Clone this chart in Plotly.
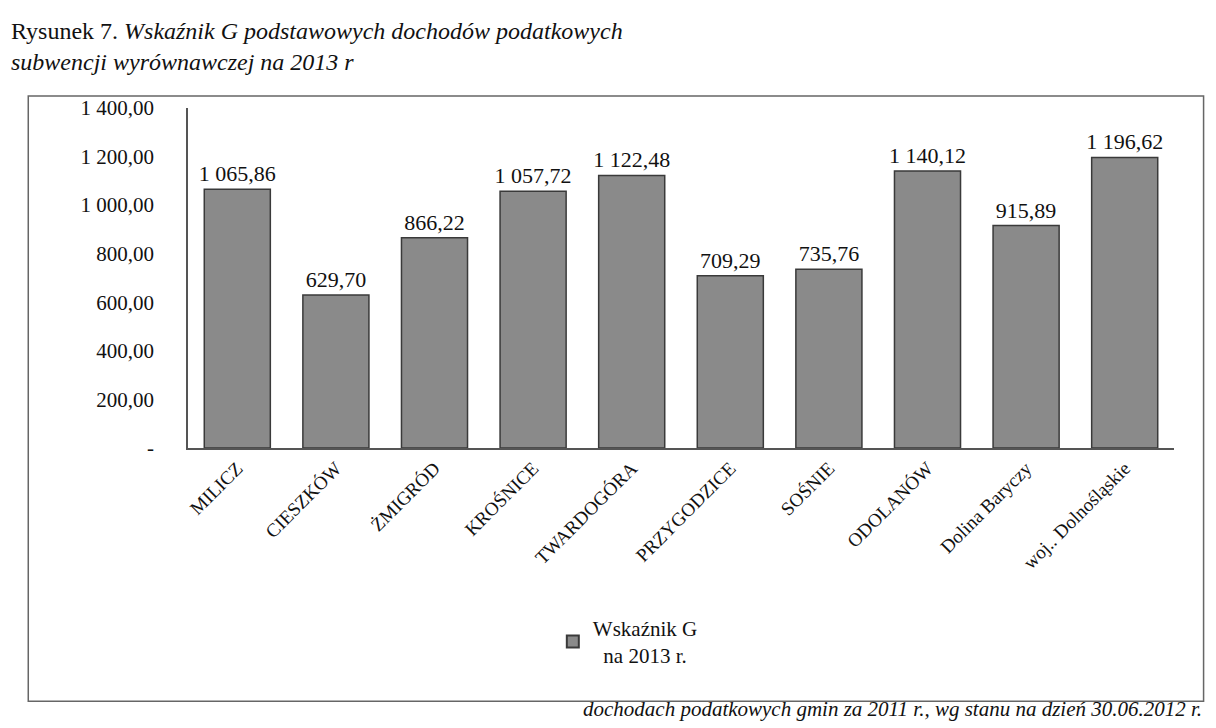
import plotly.graph_objects as go

categories = ["MILICZ", "CIESZKÓW", "ŻMIGRÓD", "KROŚNICE", "TWARDOGÓRA",
              "PRZYGODZICE", "SOŚNIE", "ODOLANÓW", "Dolina Baryczy", "woj.. Dolnośląskie"]
values = [1065.86, 629.70, 866.22, 1057.72, 1122.48, 709.29, 735.76, 1140.12, 915.89, 1196.62]
series_name = "Wskaźnik G<br>\u00a0\u00a0na 2013 r."
y_tickvals = [0, 200, 400, 600, 800, 1000, 1200, 1400]
y_ticktext = ["-", "200,00", "400,00", "600,00", "800,00", "1 000,00", "1 200,00", "1 400,00"]

FONT = "Liberation Serif, Times New Roman, serif"

fig = go.Figure()
fig.add_trace(go.Bar(
    x=categories, y=values, name=series_name,
    marker=dict(color="#8a8a8a", line=dict(color="#3a3a3a", width=1.5)),
    texttemplate="%{y:,.2f}", textposition="outside", textangle=0,
    constraintext="none",
    textfont=dict(family=FONT, size=22, color="#111"),
    cliponaxis=False,
    showlegend=True,
))

fig.update_layout(
    width=1216, height=728,
    separators=", ",
    paper_bgcolor="white", plot_bgcolor="white",
    font=dict(family=FONT, color="#111"),
    margin=dict(l=180, r=50, t=100, b=288),
    bargap=0.33,
    uniformtext=dict(mode=False),
    showlegend=True,
    legend=dict(x=0.37, y=-0.47, xanchor="left", yanchor="top",
                font=dict(family=FONT, size=21, color="#111"),
                itemsizing="constant", bgcolor="rgba(0,0,0,0)"),
    xaxis=dict(tickangle=-45, tickfont=dict(family=FONT, size=19, color="#111"),
               showline=True, linecolor="#555", linewidth=1.5, ticks="",
               showgrid=False),
    yaxis=dict(range=[0, 1400], tickvals=y_tickvals, ticktext=y_ticktext,
               tickfont=dict(family=FONT, size=21, color="#111"),
               showline=True, linecolor="#555", linewidth=1.5, ticks="",
               showgrid=False, zeroline=False, ticklabelstandoff=28),
)

# chart frame
fig.add_shape(type="rect", xref="paper", yref="paper",
              x0=-0.162, x1=1.03, y0=-0.745, y1=1.035,
              line=dict(color="#666", width=1.5), fillcolor="rgba(0,0,0,0)", layer="below")

fig.add_annotation(
    xref="paper", yref="paper", x=-0.182, y=1.27, xanchor="left", yanchor="top",
    align="left", showarrow=False,
    text="Rysunek 7. <i>Wskaźnik G podstawowych dochodów podatkowych</i><br><i>subwencji wyrównawczej na 2013 r</i>",
    font=dict(family=FONT, size=24, color="#111"))

fig.add_annotation(
    xref="paper", yref="paper", x=1.03, y=-0.81, xanchor="right", yanchor="bottom",
    showarrow=False,
    text="<i>dochodach podatkowych gmin za 2011 r., wg stanu na dzień 30.06.2012 r.</i>",
    font=dict(family=FONT, size=21, color="#111"))

fig.write_html("out.html")
